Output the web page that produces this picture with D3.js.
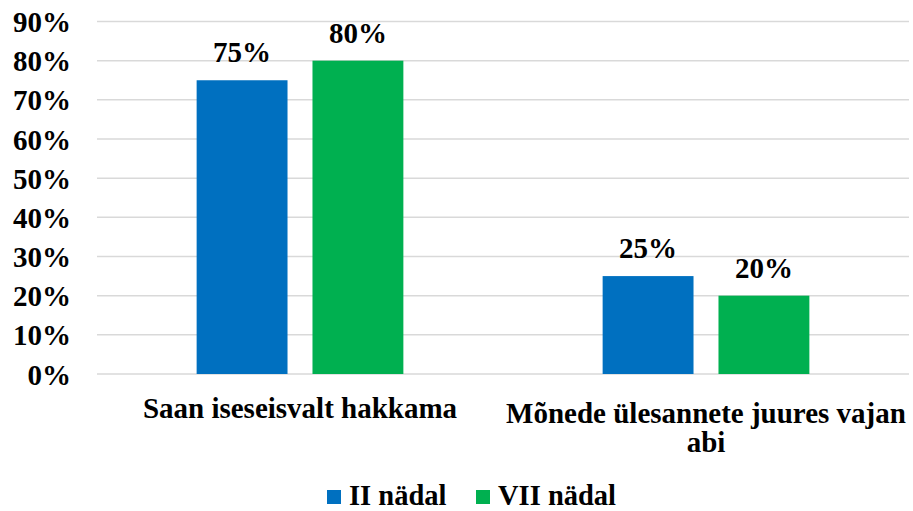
<!DOCTYPE html>
<html>
<head>
<meta charset="utf-8">
<script src="https://cdn.jsdelivr.net/npm/d3@7"></script>
<style>
  body { margin: 0; background: #fff; }
  text { font-family: "Liberation Serif", "Times New Roman", serif; font-weight: bold; fill: #000; }
</style>
</head>
<body>
<div id="chart"></div>
<script>
// chart data
var categories = ["Saan iseseisvalt hakkama", "Mõnede ülesannete juures vajan abi"];
var seriesNames = ["II nädal", "VII nädal"];
var seriesValues = [[75, 25], [80, 20]];   // one array per series, one value per category
var yTicks = [0, 10, 20, 30, 40, 50, 60, 70, 80, 90];
var colors = ["#0070C0", "#00B050"];

var w = 913, h = 511;
var margin = {top: 21.5, right: 4, bottom: 137, left: 97};
var innerW = w - margin.left - margin.right,
    innerH = h - margin.top - margin.bottom;

var svg = d3.select("#chart").append("svg")
    .attr("width", w)
    .attr("height", h);

var g = svg.append("g")
    .attr("transform", "translate(" + margin.left + "," + margin.top + ")");

var y = d3.scaleLinear()
    .domain([0, 90])
    .range([innerH, 0]);

var x0 = d3.scaleBand()
    .domain(categories)
    .range([0, innerW])
    .padding(0);

var x1 = d3.scaleBand()
    .domain(seriesNames)
    .range([0, x0.bandwidth()])
    .paddingInner(0.2155)
    .paddingOuter(0.86);

// gridlines
g.selectAll(".grid")
    .data(yTicks)
    .enter().append("line")
        .attr("class", "grid")
        .attr("x1", 0)
        .attr("x2", innerW)
        .attr("y1", function(d){ return y(d); })
        .attr("y2", function(d){ return y(d); })
        .attr("stroke", "#d9d9d9")
        .attr("stroke-width", 1.5);

// y axis labels
var yAxis = d3.axisLeft(y)
    .tickValues(yTicks)
    .tickFormat(function(d){ return d + "%"; })
    .tickSize(0)
    .tickPadding(26);

g.append("g")
    .attr("class", "y-axis")
    .call(yAxis)
    .call(function(s){ s.select(".domain").remove(); })
    .selectAll("text")
        .style("font-size", "29px")
        .attr("dy", "0.35em");

// bars
var rows = categories.map(function(c, ci){
    return seriesNames.map(function(s, si){
        return {category: c, series: s, value: seriesValues[si][ci], idx: si};
    });
});

var groups = g.selectAll(".group")
    .data(rows)
    .enter().append("g")
        .attr("class", "group")
        .attr("transform", function(d){ return "translate(" + x0(d[0].category) + ",0)"; });

groups.selectAll("rect")
    .data(function(d){ return d; })
    .enter().append("rect")
        .attr("x", function(d){ return x1(d.series); })
        .attr("y", function(d){ return y(d.value); })
        .attr("width", x1.bandwidth())
        .attr("height", function(d){ return innerH - y(d.value); })
        .attr("fill", function(d){ return colors[d.idx]; });

groups.selectAll(".val")
    .data(function(d){ return d; })
    .enter().append("text")
        .attr("class", "val")
        .attr("x", function(d){ return x1(d.series) + x1.bandwidth() / 2; })
        .attr("y", function(d){ return y(d.value) - 18; })
        .attr("text-anchor", "middle")
        .style("font-size", "29px")
        .text(function(d){ return d.value + "%"; });

// category labels, wrapped to band width
var catLabels = g.selectAll(".cat")
    .data(categories)
    .enter().append("text")
        .attr("class", "cat")
        .attr("text-anchor", "middle")
        .style("font-size", "29px")
        .attr("x", function(d){ return x0(d) + x0.bandwidth() / 2; })
        .attr("y", innerH + 44);

catLabels.each(function(d){
    var text = d3.select(this),
        words = d.split(/\s+/),
        line = [],
        lineNo = 0,
        cx = text.attr("x"),
        tspan = text.append("tspan").attr("x", cx).attr("dy", 0);
    words.forEach(function(word){
        line.push(word);
        tspan.text(line.join(" "));
        if (tspan.node().getComputedTextLength() > x0.bandwidth() && line.length > 1) {
            line.pop();
            tspan.text(line.join(" "));
            line = [word];
            lineNo++;
            tspan = text.append("tspan").attr("x", cx).attr("dy", 29).text(word);
        }
    });
    if (lineNo > 0) text.attr("y", innerH + 49);
});

// legend
var legendX = [327, 476];
var legend = svg.selectAll(".legend")
    .data(seriesNames)
    .enter().append("g")
        .attr("class", "legend")
        .attr("transform", function(d, i){ return "translate(" + legendX[i] + ",490)"; });

legend.append("rect")
    .attr("width", 14)
    .attr("height", 14)
    .attr("fill", function(d, i){ return colors[i]; });

legend.append("text")
    .attr("x", 22)
    .attr("y", 14.5)
    .style("font-size", "28.5px")
    .text(function(d){ return d; });
</script>
</body>
</html>
